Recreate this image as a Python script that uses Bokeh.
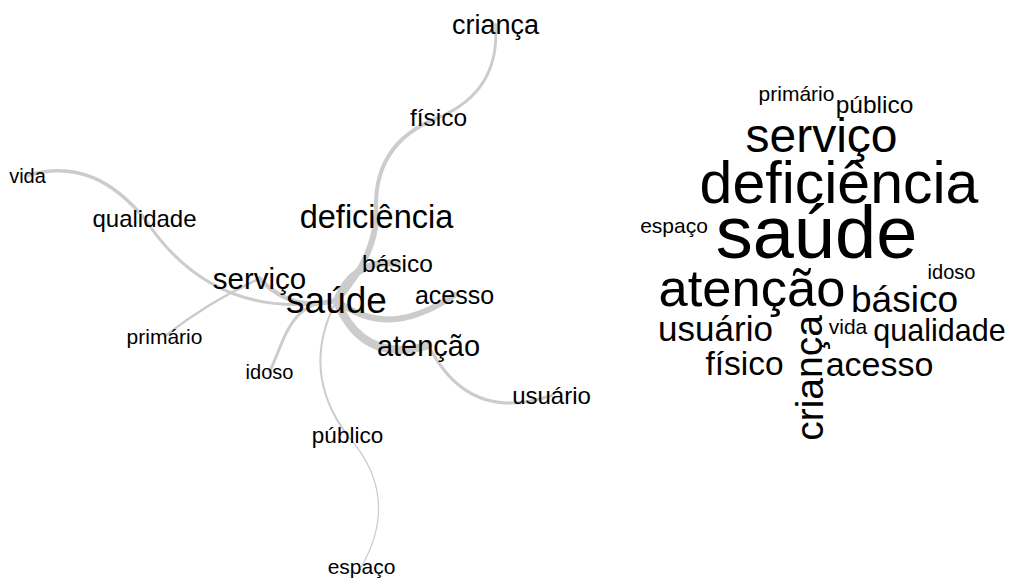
import numpy as np
from bokeh.plotting import figure
from bokeh.models import Range1d, ColumnDataSource
from bokeh.core.properties import value
from bokeh.embed import file_html
from bokeh.resources import INLINE

# ---- co-occurrence graph (left) ----
node_words = ["saúde", "deficiência", "atenção", "serviço", "básico", "acesso",
              "físico", "criança", "qualidade", "vida", "primário", "idoso",
              "usuário", "público", "espaço"]
node_x = [336, 376, 428, 259, 397, 454, 438, 495, 144, 27, 164, 269, 551, 347, 361]
node_y = [300, 216, 345, 278, 263, 294.5, 117, 24, 218, 175, 336, 371, 395, 435, 566]
node_size = [37, 32.5, 29, 29.5, 24.5, 25, 24.5, 27, 24, 20, 21, 20, 24, 22.5, 21]

edge_from = ["saúde", "saúde", "deficiência", "físico", "saúde", "saúde", "atenção",
             "saúde", "qualidade", "serviço", "serviço", "saúde", "saúde", "público"]
edge_to = ["deficiência", "básico", "físico", "criança", "acesso", "atenção", "usuário",
           "qualidade", "vida", "primário", "saúde", "idoso", "público", "espaço"]
edge_weight = [6, 7, 4, 2.8, 6, 8, 3, 3, 3.5, 2.5, 4.5, 3, 2, 1.2]
edge_bend0 = [0.10, -0.25, -0.25, 0.24, 0.28, 0.30, 0.29, -0.22, 0.19, 0.04, 0.20, 0.35, 0.21, -0.24]
edge_bend1 = [0.13, -0.25, -0.25, 0.24, 0.20, 0.30, 0.29, -0.22, 0.25, 0.04, 0.20, 0.10, 0.21, -0.24]

# ---- word cloud (right) ----
cloud_words = ["primário", "público", "serviço", "deficiência", "espaço", "saúde", "idoso",
               "atenção", "básico", "usuário", "vida", "qualidade", "físico", "acesso", "criança"]
cloud_x = [796, 874, 821, 838.5, 673.5, 816, 951, 751.5, 904, 715, 847.5, 939, 744, 879, 808.5]
cloud_y = [92.6, 104.4, 135.2, 182.3, 224.6, 232.1, 271, 286.6, 299, 327.7, 325.6, 329.3, 363.3, 363.1, 377.5]
cloud_size = [21, 24.5, 48, 59, 21, 74, 20, 52.5, 37, 35, 21, 30.5, 33.5, 34, 39]
cloud_rot = [0, 0, 0, 0, 0, 0, 0, 0, 0, 0, 0, 0, 0, 0, 90]

W, H = 1009, 578
p = figure(width=W, height=H, output_backend="svg", toolbar_location=None,
           x_range=Range1d(0, W), y_range=Range1d(H, 0),
           min_border=0)
p.axis.visible = False
p.grid.visible = False
p.outline_line_color = None
p.background_fill_color = "white"
p.border_fill_color = "white"

pos = {w: (x, y) for w, x, y in zip(node_words, node_x, node_y)}
x0, y0, x1, y1, cx0, cy0, cx1, cy1 = ([] for _ in range(8))
for a, b, b0, b1 in zip(edge_from, edge_to, edge_bend0, edge_bend1):
    ax, ay = pos[a]
    bx, by = pos[b]
    dx, dy = bx - ax, by - ay
    x0.append(ax); y0.append(ay); x1.append(bx); y1.append(by)
    cx0.append(ax + dx / 3 + b0 * (-dy)); cy0.append(ay + dy / 3 + b0 * dx)
    cx1.append(ax + 2 * dx / 3 + b1 * (-dy)); cy1.append(ay + 2 * dy / 3 + b1 * dx)

esrc = ColumnDataSource(dict(x0=x0, y0=y0, x1=x1, y1=y1, cx0=cx0, cy0=cy0,
                             cx1=cx1, cy1=cy1, w=edge_weight))
p.bezier(x0="x0", y0="y0", x1="x1", y1="y1", cx0="cx0", cy0="cy0", cx1="cx1", cy1="cy1",
         line_width="w", line_color="#cccccc", line_cap="round", source=esrc)

nsrc = ColumnDataSource(dict(x=node_x, y=node_y, t=node_words,
                             fs=["%.1fpx" % s for s in node_size]))
p.text(x="x", y="y", text="t", text_font_size="fs", text_font=value("Liberation Sans"),
       text_align="center", text_baseline="middle", text_color="black", source=nsrc)

csrc = ColumnDataSource(dict(x=cloud_x, y=cloud_y, t=cloud_words,
                             fs=["%.1fpx" % s for s in cloud_size],
                             a=[np.deg2rad(r) for r in cloud_rot]))
p.text(x="x", y="y", text="t", text_font_size="fs", angle="a", text_font=value("Liberation Sans"),
       text_align="center", text_baseline="middle", text_color="black", source=csrc)

open("out.html", "w").write(file_html(p, INLINE))
